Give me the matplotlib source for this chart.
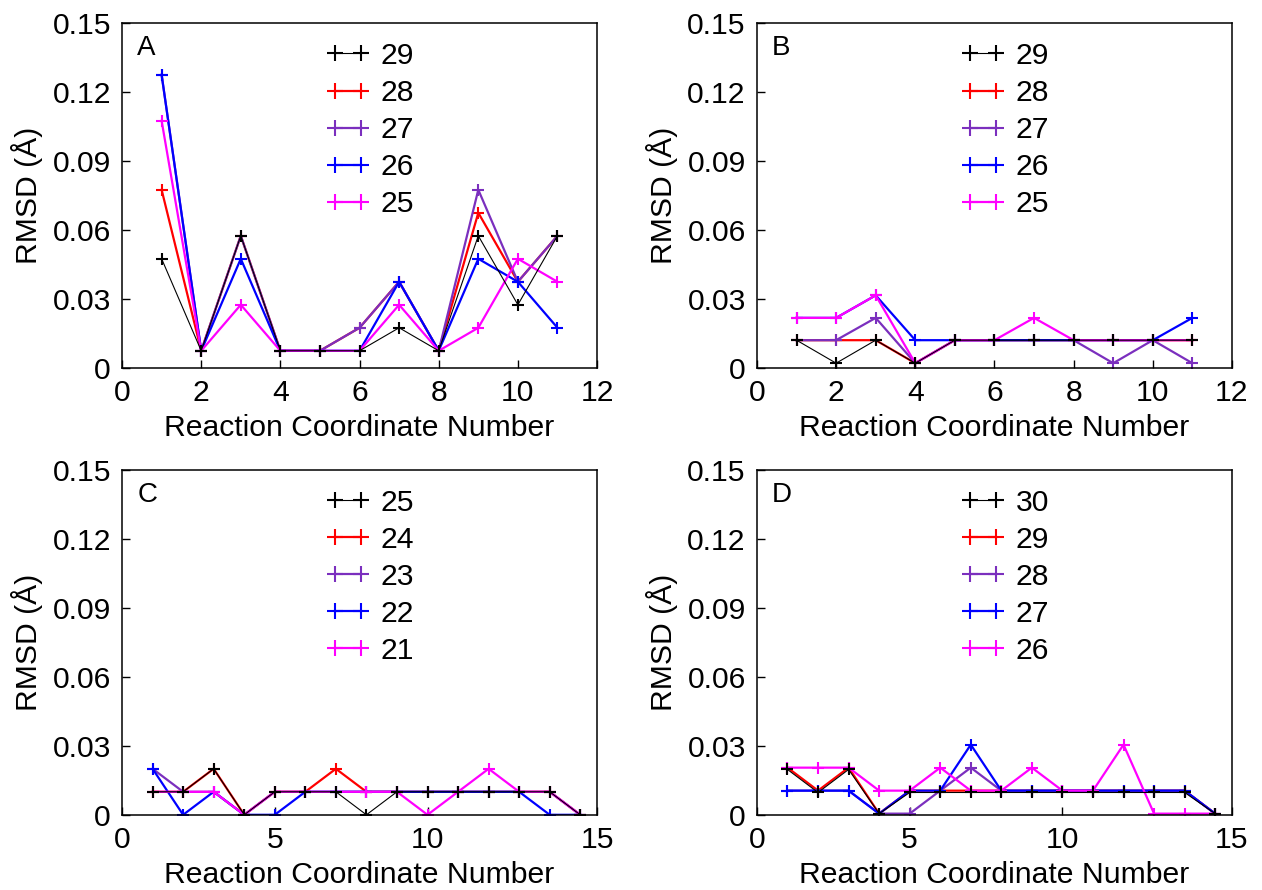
import matplotlib
matplotlib.use('Agg')
import matplotlib.pyplot as plt
import numpy as np

plt.rcParams['font.family'] = ['Liberation Sans', 'DejaVu Sans']
plt.rcParams['font.size'] = 21.7

# panel A (x = 1..11), legend 29..25
xA = [1, 2, 3, 4, 5, 6, 7, 8, 9, 10, 11]
a29 = [0.0475, 0.0075, 0.0575, 0.0075, 0.0075, 0.0075, 0.0175, 0.0075, 0.0575, 0.0275, 0.0575]
a28 = [0.0775, 0.0075, 0.0575, 0.0075, 0.0075, 0.0175, 0.0375, 0.0075, 0.0675, 0.0375, 0.0575]
a27 = [0.1275, 0.0075, 0.0575, 0.0075, 0.0075, 0.0175, 0.0375, 0.0075, 0.0775, 0.0375, 0.0575]
a26 = [0.1275, 0.0075, 0.0475, 0.0075, 0.0075, 0.0075, 0.0375, 0.0075, 0.0475, 0.0375, 0.0175]
a25 = [0.1075, 0.0075, 0.0275, 0.0075, 0.0075, 0.0075, 0.0275, 0.0075, 0.0175, 0.0475, 0.0375]

# panel B (x = 1..11), legend 29..25
xB = [1, 2, 3, 4, 5, 6, 7, 8, 9, 10, 11]
b29 = [0.0121, 0.0021, 0.0121, 0.0021, 0.0121, 0.0121, 0.0121, 0.0121, 0.0121, 0.0121, 0.0121]
b28 = [0.0121, 0.0121, 0.0121, 0.0021, 0.0121, 0.0121, 0.0121, 0.0121, 0.0121, 0.0121, 0.0121]
b27 = [0.0121, 0.0121, 0.0218, 0.0021, 0.0121, 0.0121, 0.0121, 0.0121, 0.0021, 0.0121, 0.0021]
b26 = [0.0218, 0.0218, 0.0316, 0.0121, 0.0121, 0.0121, 0.0121, 0.0121, 0.0121, 0.0121, 0.0218]
b25 = [0.0218, 0.0218, 0.0316, 0.0021, 0.0121, 0.0121, 0.0218, 0.0121, 0.0121, 0.0121, 0.0121]

# panel C (x = 1..15), legend 25..21
xC = [1, 2, 3, 4, 5, 6, 7, 8, 9, 10, 11, 12, 13, 14, 15]
c25 = [0.01, 0.01, 0.02, 0, 0.01, 0.01, 0.01, 0, 0.01, 0.01, 0.01, 0.01, 0.01, 0.01, 0]
c24 = [0.01, 0.01, 0.02, 0, 0.01, 0.01, 0.02, 0.01, 0.01, 0.01, 0.01, 0.01, 0.01, 0.01, 0]
c23 = [0.02, 0.01, 0.01, 0, 0.01, 0.01, 0.01, 0.01, 0.01, 0.01, 0.01, 0.01, 0.01, 0.01, 0]
c22 = [0.02, 0, 0.01, 0, 0, 0.01, 0.01, 0.01, 0.01, 0.01, 0.01, 0.01, 0.01, 0, 0]
c21 = [0.01, 0.01, 0.01, 0, 0.01, 0.01, 0.01, 0.01, 0.01, 0, 0.01, 0.02, 0.01, 0.01, 0]

# panel D (x = 1..15), legend 30..26
xD = [1, 2, 3, 4, 5, 6, 7, 8, 9, 10, 11, 12, 13, 14, 15]
d30 = [0.0197, 0.0097, 0.0197, 0.0005, 0.0097, 0.0097, 0.0097, 0.0097, 0.0097, 0.0097, 0.0097, 0.0097, 0.0097, 0.0097, 0.0005]
d29 = [0.0205, 0.0105, 0.0205, 0.0005, 0.0105, 0.0105, 0.0105, 0.0105, 0.0105, 0.0105, 0.0105, 0.0105, 0.0105, 0.0105, 0.0005]
d28 = [0.0105, 0.0105, 0.0105, 0.0005, 0.0005, 0.0105, 0.0205, 0.0105, 0.0105, 0.0105, 0.0105, 0.0105, 0.0105, 0.0105, 0.0005]
d27 = [0.0105, 0.0105, 0.0105, 0.0005, 0.0105, 0.0105, 0.0305, 0.0105, 0.0105, 0.0105, 0.0105, 0.0105, 0.0105, 0.0105, 0.0005]
d26 = [0.0205, 0.0205, 0.0205, 0.0105, 0.0105, 0.0205, 0.0105, 0.0105, 0.0205, 0.0105, 0.0105, 0.0305, 0.0005, 0.0005, 0.0005]

colors = ['black', '#ff0000', '#7b2fbe', '#0000ff', '#ff00ff']
yticks = [0, 0.03, 0.06, 0.09, 0.12, 0.15]
yticklabels = ['0', '0.03', '0.06', '0.09', '0.12', '0.15']

panels = [
	('A', xA, [a29, a28, a27, a26, a25], ['29', '28', '27', '26', '25'], [0.0967, 0.5865]),
	('B', xB, [b29, b28, b27, b26, b25], ['29', '28', '27', '26', '25'], [0.5998, 0.5865]),
	('C', xC, [c25, c24, c23, c22, c21], ['25', '24', '23', '22', '21'], [0.0967, 0.0845]),
	('D', xD, [d30, d29, d28, d27, d26], ['30', '29', '28', '27', '26'], [0.5998, 0.0845]),
]

fig = plt.figure(figsize=(12.62, 8.9), dpi=100)
for letter, x, series, names, pos in panels:
	ax = fig.add_axes([pos[0], pos[1], 0.3764, 0.3876])
	handles = [None] * 5
	# colored lines first (28, 27, 26, 25), thin black on top
	for i in [1, 2, 3, 4, 0]:
		lw = 0.8 if i == 0 else 1.6
		h, = ax.plot(x, series[i], color=colors[i], lw=lw, marker='+', ms=8, mew=1.5, label=names[i])
		handles[i] = h
	ax.legend(handles, names, loc='upper left', bbox_to_anchor=(0.43, 0.945), frameon=False,
		numpoints=2, markerscale=1.5, handlelength=1.45, handletextpad=0.35, labelspacing=0.3,
		borderpad=0, borderaxespad=0)
	ax.text(0.032, 0.965, letter, transform=ax.transAxes, ha='left', va='top', fontsize=20)
	ax.set_ylim(0, 0.15)
	ax.set_yticks(yticks)
	ax.set_yticklabels(yticklabels)
	if letter in ('A', 'B'):
		ax.set_xlim(0, 12)
		ax.set_xticks([0, 2, 4, 6, 8, 10, 12])
	else:
		ax.set_xlim(0, 15.55)
		ax.set_xticks([0, 5, 10, 15.55])
		ax.set_xticklabels(['0', '5', '10', '15'])
	ax.tick_params(direction='in', length=6, width=1, top=False, right=False, pad=8)
	for s in ax.spines.values():
		s.set_linewidth(1.1)
	ax.set_xlabel('Reaction Coordinate Number', labelpad=5)
	ax.set_ylabel('RMSD (Å)', labelpad=7)

fig.savefig('out.png', dpi=100)
